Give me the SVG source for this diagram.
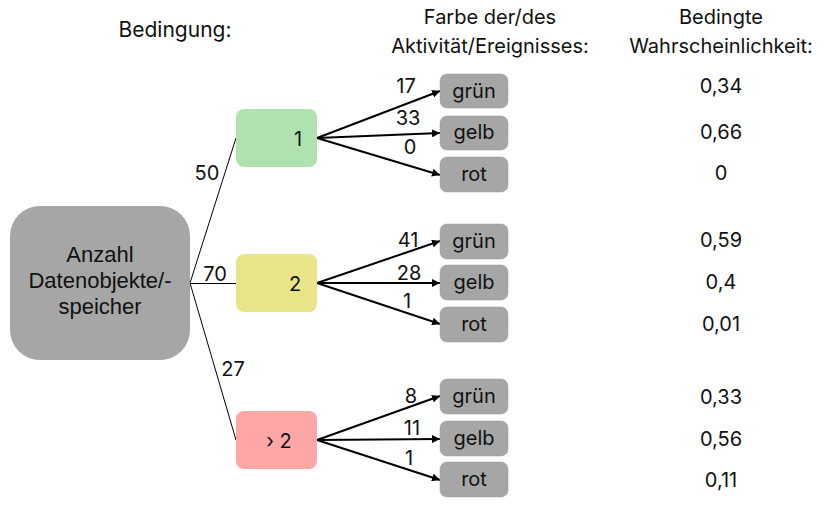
<svg xmlns="http://www.w3.org/2000/svg" width="833" height="511" viewBox="0 0 833 511">
<defs>
<marker id="ah" viewBox="0 0 10 10" refX="10" refY="5" markerWidth="4" markerHeight="4" orient="auto" markerUnits="strokeWidth">
<path d="M0,0 L10,5 L0,10 Z" fill="#000"/>
</marker>
</defs>
<style>
text{font-family:Inter,"Noto Sans","Liberation Sans",sans-serif;font-size:20px;fill:#111}
.arial{font-family:"Liberation Sans",Arial,sans-serif;font-size:22px}
.c{text-anchor:middle}
.thin{stroke:#000;stroke-width:1;fill:none}
.arr{stroke:#000;stroke-width:2;fill:none;marker-end:url(#ah)}
.g{fill:#a6a6a6;stroke:#999;stroke-width:0.5}
</style>
<rect width="833" height="511" fill="#fff"/>
<g id="headers">
<text class="c" x="175" y="37" style="font-size:21px">Bedingung:</text>
<text class="c" x="490" y="24">Farbe der/des</text>
<text class="c" x="490" y="53">Aktivität/Ereignisses:</text>
<text class="c" x="721" y="24">Bedingte</text>
<text class="c" x="721" y="53">Wahrscheinlichkeit:</text>
</g>
<g id="connectors">
<line class="thin" x1="190" y1="283" x2="236" y2="138"/>
<line class="thin" x1="190" y1="283.5" x2="236" y2="283.5"/>
<line class="thin" x1="190" y1="283" x2="236" y2="440"/>
<line class="arr" x1="317" y1="138" x2="440" y2="91"/>
<line class="arr" x1="317" y1="138" x2="440" y2="133"/>
<line class="arr" x1="317" y1="138" x2="440" y2="175"/>
<line class="arr" x1="317" y1="283" x2="440" y2="241"/>
<line class="arr" x1="317" y1="283" x2="440" y2="283"/>
<line class="arr" x1="317" y1="283" x2="440" y2="324"/>
<line class="arr" x1="317" y1="440" x2="440" y2="396"/>
<line class="arr" x1="317" y1="440" x2="440" y2="439"/>
<line class="arr" x1="317" y1="440" x2="440" y2="480"/>
<text class="c" x="207" y="180">50</text>
<text class="c" x="215" y="281">70</text>
<text class="c" x="233" y="376">27</text>
<text class="c" x="406" y="93">17</text>
<text class="c" x="408" y="125">33</text>
<text class="c" x="410" y="154">0</text>
<text class="c" x="408" y="247">41</text>
<text class="c" x="409" y="280">28</text>
<text class="c" x="407" y="308">1</text>
<text class="c" x="411" y="403">8</text>
<text class="c" x="412" y="435">11</text>
<text class="c" x="409" y="465">1</text>
</g>
<g id="root">
<rect x="10" y="206" width="180" height="154" rx="30" fill="#a6a6a6"/>
<text class="c arial" x="100" y="262">Anzahl</text>
<text class="c arial" x="100" y="288">Datenobjekte/-</text>
<text class="c arial" x="100" y="314">speicher</text>
</g>
<g id="cond1">
<rect x="236" y="109" width="81" height="58" rx="8" fill="#b0e2b0"/>
<text class="c" x="298" y="146">1</text>
</g>
<g id="cond2">
<rect x="236" y="254" width="81" height="58" rx="8" fill="#e8e48a"/>
<text class="c" x="295" y="291">2</text>
</g>
<g id="cond3">
<rect x="236" y="411" width="81" height="58" rx="8" fill="#ffa6a6"/>
<text class="c" x="279" y="448">› 2</text>
</g>
<g id="g1_gruen"><rect class="g" x="440" y="74" width="68" height="34" rx="7"/><text class="c" x="474" y="98">grün</text></g>
<g id="g1_gelb"><rect class="g" x="440" y="116" width="68" height="34" rx="7"/><text class="c" x="474" y="139">gelb</text></g>
<g id="g1_rot"><rect class="g" x="440" y="157" width="68" height="35" rx="7"/><text class="c" x="474" y="181">rot</text></g>
<g id="g2_gruen"><rect class="g" x="440" y="224" width="68" height="35" rx="7"/><text class="c" x="474" y="248">grün</text></g>
<g id="g2_gelb"><rect class="g" x="440" y="265" width="68" height="35" rx="7"/><text class="c" x="474" y="289">gelb</text></g>
<g id="g2_rot"><rect class="g" x="440" y="307" width="68" height="35" rx="7"/><text class="c" x="474" y="331">rot</text></g>
<g id="g3_gruen"><rect class="g" x="440" y="379" width="68" height="35" rx="7"/><text class="c" x="474" y="403">grün</text></g>
<g id="g3_gelb"><rect class="g" x="440" y="421" width="68" height="35" rx="7"/><text class="c" x="474" y="445">gelb</text></g>
<g id="g3_rot"><rect class="g" x="440" y="462" width="68" height="35" rx="7"/><text class="c" x="474" y="486">rot</text></g>
<g id="probs">
<text class="c" x="721" y="93">0,34</text>
<text class="c" x="721" y="139">0,66</text>
<text class="c" x="721" y="180">0</text>
<text class="c" x="721" y="247">0,59</text>
<text class="c" x="721" y="289">0,4</text>
<text class="c" x="721" y="331">0,01</text>
<text class="c" x="721" y="404">0,33</text>
<text class="c" x="721" y="446">0,56</text>
<text class="c" x="721" y="487">0,11</text>
</g>
</svg>
